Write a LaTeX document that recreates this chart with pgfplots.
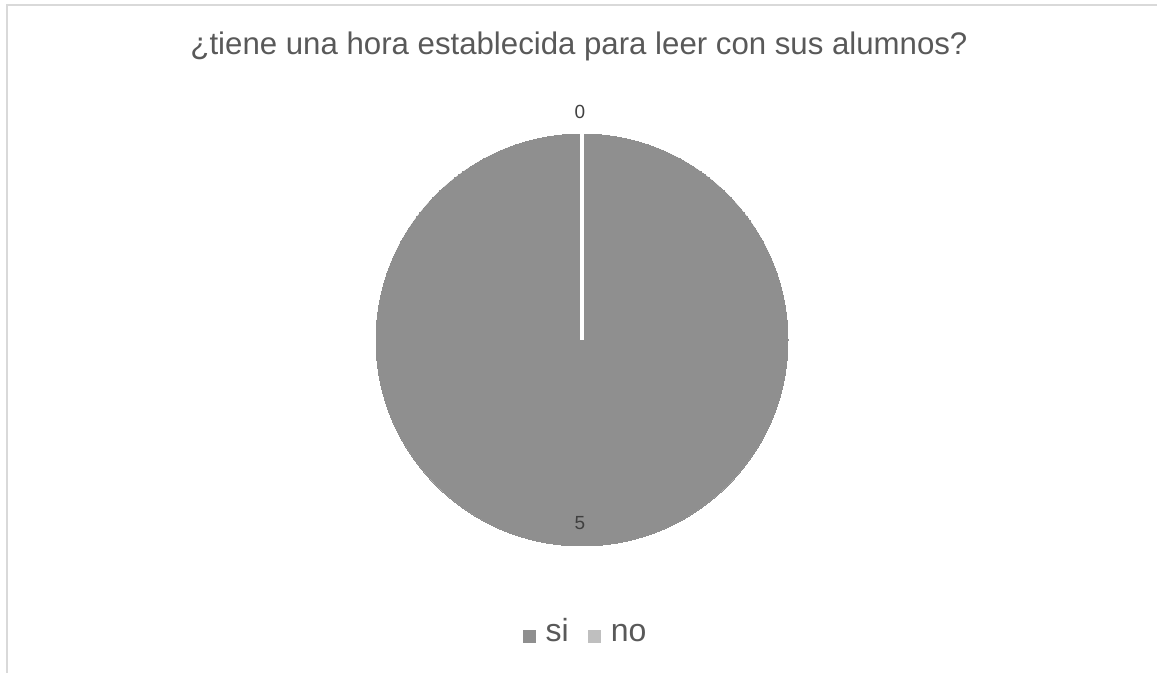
\documentclass[border=0pt]{standalone}
\usepackage{fontspec}
\setmainfont{Liberation Sans}
\usepackage{pgfplots}
\pgfplotsset{compat=1.18}

\definecolor{sicol}{HTML}{8F8F8F}
\definecolor{nocol}{HTML}{BFBFBF}
\definecolor{titlecol}{HTML}{595959}
\definecolor{labcol}{HTML}{404040}
\definecolor{framecol}{HTML}{D9D9D9}

% answers: si = 5, no = 0  -> the "si" slice is the whole pie
\begin{document}
\begin{tikzpicture}
\begin{axis}[
    width=578.5pt, height=336.5pt,
    scale only axis,
    xmin=0, xmax=1157, ymin=0, ymax=673,
    hide axis,
    clip=false,
    set layers,
    legend style={at={(axis cs:585,37)}, anchor=center, draw=none,
        font=\fontsize{16}{19}\selectfont, text=titlecol,
        legend columns=2,
        nodes={text height=0.72em, text depth=0.2em, inner sep=0pt},
        /tikz/every odd column/.append style={column sep=5pt},
        /tikz/every even column/.append style={column sep=10pt}},
    legend cell align=left,
]
% frame of the chart area (cropped at right and bottom)
\draw[framecol, line width=1pt] (axis cs:7,0) -- (axis cs:7,668) -- (axis cs:1157,668);
% title
\node[text=titlecol, font=\fontsize{15.6}{19}\selectfont, anchor=base] at (axis cs:579,618)
    {¿tiene una hora establecida para leer con sus alumnos?};

% pie: centre (582,333), radius 206 px
\addplot[only marks, mark=*, mark size=103pt,
    mark options={fill=sicol, draw=sicol, line width=0pt}, forget plot]
    coordinates {(582,333)};
% zero slice "no" = border at 12 o'clock
\addplot[white, line width=1.6pt, forget plot, on layer=axis foreground]
    coordinates {(582,333) (582,540)};

% data labels
\addplot[only marks, mark=none, nodes near coords, point meta=explicit symbolic,
    nodes near coords style={text=labcol, font=\fontsize{9.5}{11}\selectfont, anchor=center},
    forget plot, on layer=axis foreground]
    coordinates {(580,561)[0] (580,150)[5]};

\addlegendimage{only marks, mark=square*, mark size=3pt, mark options={draw=sicol, fill=sicol}}
\addlegendentry{si}
\addlegendimage{only marks, mark=square*, mark size=3pt, mark options={draw=nocol, fill=nocol}}
\addlegendentry{no}
\end{axis}
\pgfresetboundingbox
\path[use as bounding box] (0,0) rectangle (578.5pt,336.5pt);
\end{tikzpicture}
\end{document}
